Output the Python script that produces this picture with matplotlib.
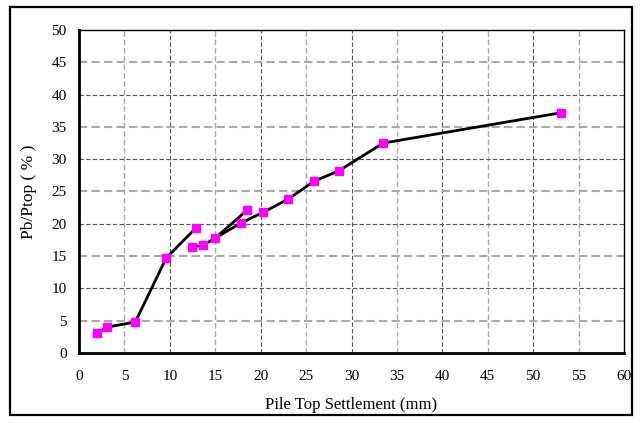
import matplotlib.pyplot as plt
from matplotlib.patches import Rectangle

plt.rcParams['font.family'] = ['Liberation Serif', 'DejaVu Serif']

# settlement (mm) and load ratio (%) for each measured point
settle = [2.0, 3.1, 6.2, 9.6, 12.4, 12.9, 13.7, 15.0, 17.8, 18.5, 20.3, 23.0, 25.9, 28.6, 33.5, 53.1]
ratio = [3.1, 4.0, 4.8, 14.7, 16.4, 19.4, 16.7, 17.8, 20.1, 22.1, 21.8, 23.8, 26.6, 28.2, 32.5, 37.2]

# indices of points joined by each line segment run
runs = [[0, 1, 2, 3, 5],
        [4, 6, 7, 9],
        [7, 8, 10, 11, 12, 13, 14, 15]]

fig = plt.figure(figsize=(6.4, 4.23), dpi=100)
ax = fig.add_axes([79/640, 1-353/423, (624-79)/640, (353-30)/423])

ax.set_xlim(0, 60)
ax.set_ylim(0, 50)
ax.set_xticks(range(0, 61, 5))
ax.set_yticks(range(0, 51, 5))

for v in range(5, 60, 5):
    if v % 10 == 0:
        ax.axvline(v, color='#555555', lw=0.8, ls=(0, (4, 2)), zorder=1)
    else:
        ax.axvline(v, color='#aaaaaa', lw=1.0, ls=(0, (4, 2)), zorder=1)
for v in range(5, 50, 5):
    if v % 10 == 0:
        ax.axhline(v, color='#555555', lw=0.8, ls=(0, (4, 2)), zorder=1)
    else:
        ax.axhline(v, color='#aaaaaa', lw=1.5, ls=(0, (4, 2)), zorder=1)

for r in runs:
    ax.plot([settle[i] for i in r], [ratio[i] for i in r], color='black', lw=2, zorder=2)
ax.plot(settle, ratio, ls='none', marker='s', ms=5.5, color='#ff00ff', zorder=3)

ax.tick_params(length=0, labelsize=11)
ax.tick_params(axis='x', pad=12)
ax.tick_params(axis='y', pad=9)
for s in ['left', 'bottom']:
    ax.spines[s].set_linewidth(2)
for s in ['top', 'right']:
    ax.spines[s].set_linewidth(1)

ax.set_xlabel('Pile Top Settlement (mm)', fontsize=12, labelpad=10)
ax.set_ylabel('Pb/Ptop ( % )', fontsize=12.5, labelpad=10)

fig.patches.append(Rectangle((10/640, 1-415/423), 622/640, 408/423, transform=fig.transFigure,
                             fill=False, ec='black', lw=1.6))

fig.savefig('out.png', dpi=100)
